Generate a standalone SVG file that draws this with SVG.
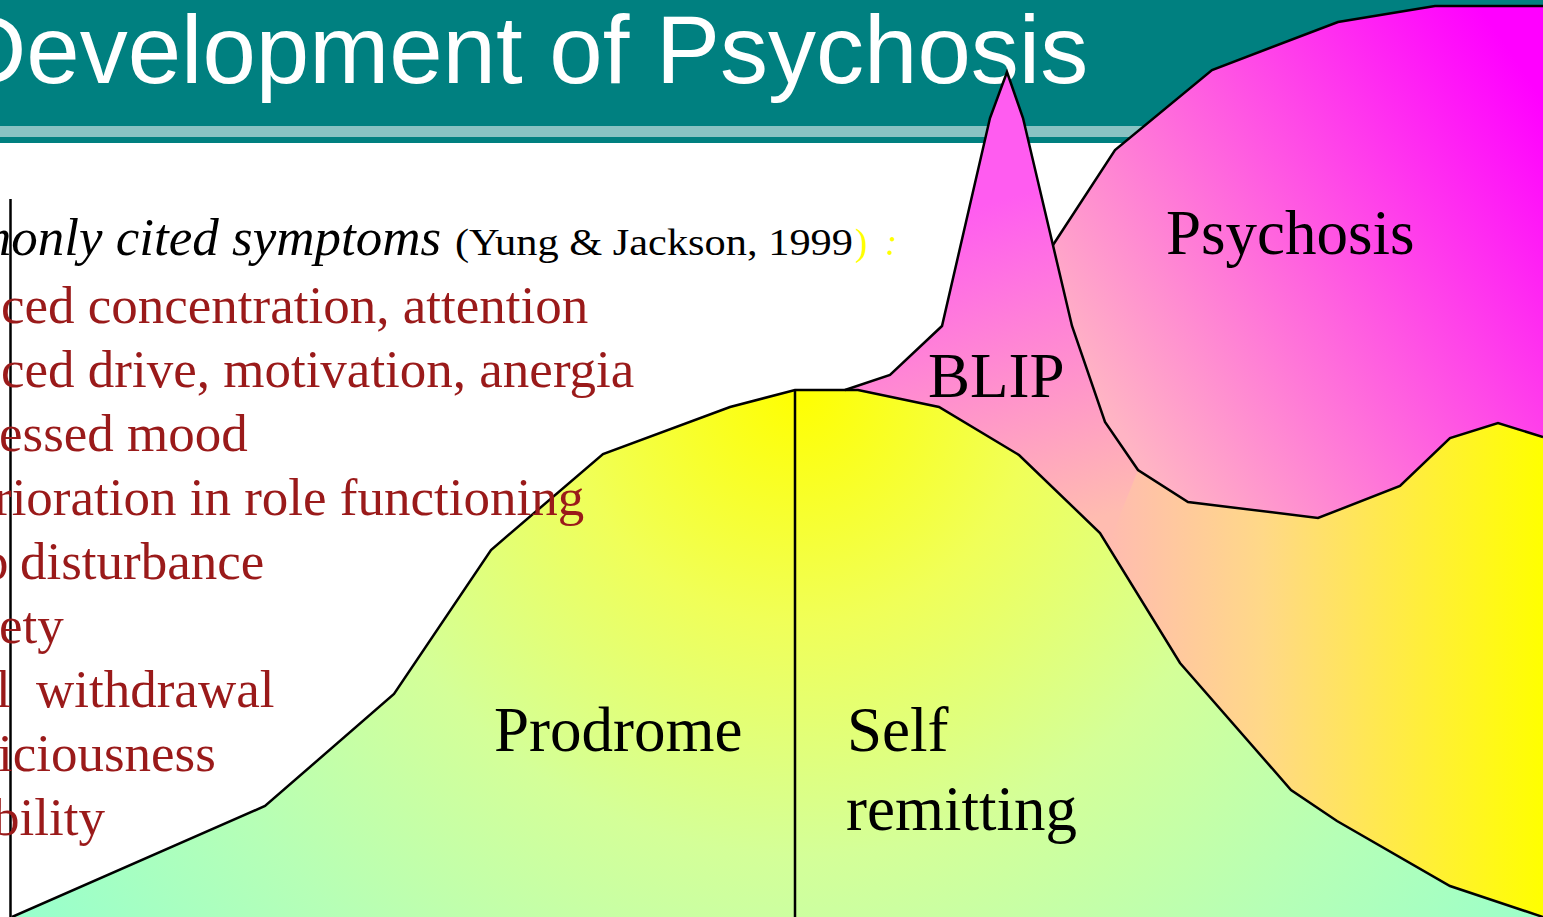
<svg xmlns="http://www.w3.org/2000/svg" width="1543" height="917" viewBox="0 0 1543 917">
  <defs>
    <radialGradient id="gGreen" gradientUnits="userSpaceOnUse" cx="800" cy="390" r="930">
      <stop offset="0" stop-color="#ffff00"/>
      <stop offset="0.25" stop-color="#f0ff58"/>
      <stop offset="0.5" stop-color="#d4ff98"/>
      <stop offset="0.75" stop-color="#b6ffb6"/>
      <stop offset="1" stop-color="#99ffcc"/>
    </radialGradient>
    <linearGradient id="gPsy" gradientUnits="userSpaceOnUse" x1="1543" y1="100" x2="1100" y2="400">
      <stop offset="0" stop-color="#ff00ff"/>
      <stop offset="1" stop-color="#ffb4c4"/>
    </linearGradient>
    <linearGradient id="gBlip" gradientUnits="userSpaceOnUse" x1="1000" y1="200" x2="1090" y2="520">
      <stop offset="0" stop-color="#ff5cf0"/>
      <stop offset="1" stop-color="#ffbcb0"/>
    </linearGradient>
    <linearGradient id="gYel" gradientUnits="userSpaceOnUse" x1="1110" y1="0" x2="1543" y2="0">
      <stop offset="0" stop-color="#ffbcb0"/>
      <stop offset="0.35" stop-color="#ffd888"/>
      <stop offset="1" stop-color="#ffff00"/>
    </linearGradient>
  </defs>
  <style>
    .outline { fill: none; stroke: #000; stroke-width: 2.5; stroke-linejoin: miter; }
    .red { font-family: "Liberation Serif", "Times New Roman", serif; font-size: 53px; fill: #9a1a1a; }
    .lbl { font-family: "Liberation Serif", "Times New Roman", serif; font-size: 63px; fill: #000; }
    .cite { font-family: "Liberation Serif", "Times New Roman", serif; font-size: 37px; }
  </style>

  <rect x="0" y="0" width="1543" height="917" fill="#ffffff"/>

  <g id="header">
    <rect x="0" y="0" width="1543" height="126" fill="#008080"/>
    <rect x="0" y="126" width="1543" height="11" fill="#89c3c3"/>
    <rect x="0" y="137" width="1543" height="6" fill="#008080"/>
    <text x="-43" y="83" font-family="Liberation Sans, Arial, sans-serif" font-size="96" fill="#ffffff">Development of Psychosis</text>
  </g>

  <g id="psychosis-underlay">
    <polygon fill="url(#gYel)" points="1090,430 1138,470 1188,502 1318,518 1400,486 1450,438 1498,423 1543,437 1543,917 1090,917"/>
  </g>

  <g id="blip">
    <polygon fill="url(#gBlip)" points="845,390 890,375 942,326 990,118 1007,72 1023,118 1072,326 1105,422 1138,470 1107,548 857,395"/>
  </g>

  <g id="psychosis">
    <polygon fill="url(#gPsy)" points="1053,245 1115,150 1212,70 1338,22 1435,6 1543,6 1543,437 1498,423 1450,438 1400,486 1318,518 1188,502 1138,470 1105,422 1072,326"/>
  </g>

  <g id="prodrome">
    <polygon fill="url(#gGreen)" points="12,917 265,806 394,694 491,550 603,454 730,407 795,390 858,390 939,407 1019,455 1100,533 1180,663 1291,790 1337,821 1450,886 1543,917"/>
  </g>

  <g id="outlines">
    <polyline class="outline" points="1053,245 1115,150 1212,70 1338,22 1435,6 1543,6"/>
    <polyline class="outline" points="1543,437 1498,423 1450,438 1400,486 1318,518 1188,502 1138,470 1105,422 1072,326 1023,118 1007,72 990,118 942,326 890,375 845,390"/>
    <polyline class="outline" points="12,917 265,806 394,694 491,550 603,454 730,407 795,390 858,390 939,407 1019,455 1100,533 1180,663 1291,790 1337,821 1450,886 1543,917"/>
  </g>

  <g id="connectors">
    <line x1="10.5" y1="199" x2="10.5" y2="917" stroke="#000" stroke-width="2.5"/>
    <line x1="795" y1="390" x2="795" y2="917" stroke="#000" stroke-width="2.5"/>
  </g>

  <g id="symptoms">
    <text x="-27" y="255" font-family="Liberation Serif, Times New Roman, serif" font-size="53" font-style="italic" fill="#000">monly cited symptoms</text>
    <text class="cite" x="455" y="255" fill="#000" textLength="398" lengthAdjust="spacingAndGlyphs">(Yung &amp; Jackson, 1999</text>
    <text class="cite" x="855" y="255" fill="#ffff00">)</text>
    <text class="cite" x="885" y="255" fill="#ffff00" font-style="italic">:</text>
    <text class="red" x="1" y="323">ced concentration, attention</text>
    <text class="red" x="1" y="387">ced drive, motivation, anergia</text>
    <text class="red" x="-1" y="451">essed mood</text>
    <text class="red" x="-6" y="515">rioration in role functioning</text>
    <text class="red" x="-18" y="579">p<tspan x="20">disturbance</tspan></text>
    <text class="red" x="-1" y="643">ety</text>
    <text class="red" x="-4" y="707">l<tspan x="36">withdrawal</tspan></text>
    <text class="red" x="-2" y="771">iciousness</text>
    <text class="red" x="-7" y="835">bility</text>
  </g>

  <g id="labels">
    <text class="lbl" x="494" y="751">Prodrome</text>
    <text class="lbl" x="847" y="751">Self</text>
    <text class="lbl" x="846" y="830">remitting</text>
    <text class="lbl" x="928" y="397">BLIP</text>
    <text class="lbl" x="1166" y="254">Psychosis</text>
  </g>
</svg>
